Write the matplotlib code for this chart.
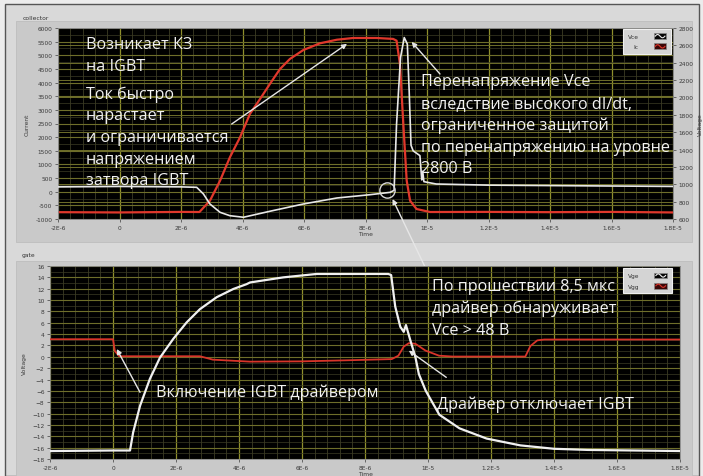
import numpy as np
import matplotlib
matplotlib.use("Agg")
import matplotlib.pyplot as plt
from matplotlib.patches import Rectangle
from matplotlib.lines import Line2D
from matplotlib.legend_handler import HandlerBase
from matplotlib.ticker import FixedLocator, MultipleLocator

# ---- data (time in microseconds) ----
t_ic = [-2.0, 0.0, 2.0, 2.6, 2.94, 3.27, 3.59, 3.92, 4.24, 4.57, 4.89, 5.22, 5.54,
        5.98, 6.52, 7.07, 7.6, 8.36, 8.9, 9.01, 9.12, 9.23, 9.34, 9.45, 9.66, 10.1,
        12.0, 14.0, 16.0, 18.0]
ic = [-750, -760, -740, -744, -330, 404, 1261, 1994, 2848, 3398, 3948, 4498, 4864,
      5194, 5439, 5571, 5634, 5634, 5600, 5536, 4680, 2480, 404, -330, -634, -744,
      -740, -750, -740, -760]

t_vce = [-2.0, 0.0, 2.0, 2.51, 2.73, 2.94, 3.27, 3.59, 4.03, 4.89, 5.98, 7.07, 8.15,
         8.80, 8.93, 9.01, 9.14, 9.26, 9.36, 9.42, 9.48, 9.55, 9.77, 9.83, 9.86, 9.90,
         10.3, 12.0, 14.0, 16.0, 18.0]
vce = [970, 975, 970, 965, 888, 773, 677, 638, 620, 689, 773, 842, 880,
       907, 930, 1694, 2462, 2690, 2616, 2078, 1450, 1385, 1330, 1050, 1150, 1030,
       1003, 990, 985, 980, 975]

t_vge = [-2.0, 0.0, 0.54, 0.64, 0.86, 1.17, 1.49, 1.91, 2.34, 2.76, 3.29, 3.82, 4.24,
         4.35, 5.41, 6.47, 7.52, 8.74, 8.83, 8.96, 9.12, 9.23, 9.30, 9.44, 9.60, 9.71,
         9.93, 10.36, 11.0, 11.86, 12.93, 14.0, 15.07, 18.0]
vge = [-16.6, -16.5, -16.5, -13.3, -8.6, -3.9, -0.15, 3.14, 6.08, 8.4, 10.5, 11.95, 12.8,
       13.1, 14.0, 14.6, 14.6, 14.6, 14.4, 8.85, 5.3, 4.4, 5.6, 2.9, -0.06, -3.05,
       -6.0, -10.2, -12.6, -14.4, -15.6, -16.2, -16.4, -16.6]

t_vgg = [-2.0, 0.0, 0.06, 0.2, 2.76, 3.17, 4.35, 6.0, 7.5, 8.85, 9.06, 9.23, 9.39,
         9.60, 9.92, 10.35, 10.78, 13.09, 13.25, 13.47, 13.69, 18.0]
vgg = [3.1, 3.1, 1.0, 0.1, 0.1, -0.5, -0.85, -0.8, -0.6, -0.4, 0.2, 1.8, 2.4,
       2.3, 1.1, 0.2, 0.05, 0.05, 1.9, 2.9, 3.05, 3.05]

time_ticks = [-2, 0, 2, 4, 6, 8, 10, 12, 14, 16, 18]
time_labels = ["-2E-6", "0", "2E-6", "4E-6", "6E-6", "8E-6", "1E-5",
               "1.2E-5", "1.4E-5", "1.6E-5", "1.8E-5"]
current_ticks = list(range(-1000, 6001, 500))
current_labels = [str(v) for v in current_ticks]
vce_ticks = list(range(600, 2801, 200))
gate_ticks = list(range(-18, 17, 2))

# ---- styling ----
W, H = 703, 477
BG = "#d9d9d9"
FRAME = "#c9c9c9"
GRID_MAJ = "#8f8f2c"
GRID_H = "#6e6e2a"
GRID_MIN = "#3c3c24"
TICK_COL = "#3a3a3a"
ANN = "#f2f2f2"
TXT_FONT = ["Open Sans", "DejaVu Sans"]
TXT_SIZE = 11.6
TICK_SIZE = 4.2


def px_rect(x0, y0, x1, y1):
    return [x0 / W, 1 - y1 / H, (x1 - x0) / W, (y1 - y0) / H]


fig = plt.figure(figsize=(W / 100, H / 100), dpi=100)
fig.patch.set_facecolor("#ececec")

# panel backgrounds
fig.patches.append(Rectangle((5 / W, 0), 694 / W, 1 - 5 / H, transform=fig.transFigure,
                             facecolor=BG, edgecolor="#555555", lw=1.0, zorder=-3))
for (x0, y0, x1, y1) in [(16, 22, 692, 243), (16, 262, 692, 482)]:
    r = px_rect(x0, y0, x1, y1)
    fig.patches.append(Rectangle((r[0], r[1]), r[2], r[3], transform=fig.transFigure,
                                 facecolor=FRAME, edgecolor="#bdbdbd", lw=0.6, zorder=-2))
fig.text(23 / W, 1 - 18 / H, "collector", fontsize=4.3, color="#333333", va="center")
fig.text(22 / W, 1 - 256 / H, "gate", fontsize=4.3, color="#333333", va="center")


class WaveSwatch(HandlerBase):
    def __init__(self, face, wave):
        super().__init__()
        self.face = face
        self.wave = wave

    def create_artists(self, legend, orig_handle, xdescent, ydescent, width, height,
                       fontsize, trans):
        rect = Rectangle((-xdescent, -ydescent), width, height, facecolor=self.face,
                         edgecolor="#8a8a8a", lw=0.5, transform=trans)
        s = np.linspace(0, 1, 40)
        wave = Line2D(-xdescent + width * (0.12 + 0.76 * s),
                      -ydescent + height * (0.5 + 0.28 * np.sin(2 * np.pi * s)),
                      color=self.wave, lw=0.8, transform=trans)
        return [rect, wave]


def style_axis(ax):
    ax.tick_params(which="major", direction="out", length=2.5, width=0.6,
                   color="#555555", labelsize=TICK_SIZE, labelcolor=TICK_COL, pad=1.5)
    ax.tick_params(which="minor", length=0)
    for sp in ax.spines.values():
        sp.set_color("#888888")
        sp.set_linewidth(0.6)


def draw_legend(ax, handles, labels, faces, waves, anchor):
    hm = {h: WaveSwatch(f, w) for h, f, w in zip(handles, faces, waves)}
    leg = ax.legend(handles, labels, handler_map=hm, loc="upper right",
                    bbox_to_anchor=anchor, borderaxespad=0, fontsize=4.2,
                    markerfirst=False, handlelength=2.2, handleheight=1.15,
                    handletextpad=2.6, labelspacing=0.75, borderpad=0.8,
                    frameon=True, fancybox=False)
    fr = leg.get_frame()
    fr.set_facecolor("#d4d4d4")
    fr.set_edgecolor("#f0f0f0")
    fr.set_linewidth(0.8)
    fr.set_alpha(1)
    for tx in leg.get_texts():
        tx.set_color("#333333")
    leg.set_zorder(20)
    return leg


# ================= collector panel =================
ax1 = fig.add_axes(px_rect(58, 29, 673, 220))
ax1.set_facecolor("black")
ax1r = ax1.twinx()

ax1.set_xlim(-2, 18)
ax1.set_ylim(-1000, 6000)
ax1r.set_ylim(600, 2800)

ax1.xaxis.set_major_locator(FixedLocator(time_ticks))
ax1.set_xticklabels(time_labels)
ax1.xaxis.set_minor_locator(MultipleLocator(0.4))
ax1.yaxis.set_major_locator(FixedLocator(current_ticks))
ax1.set_yticklabels(current_labels)
ax1.yaxis.set_minor_locator(MultipleLocator(250))
ax1r.yaxis.set_major_locator(FixedLocator(vce_ticks))

ax1.grid(which="minor", axis="x", color=GRID_MIN, lw=0.6)
ax1.grid(which="minor", axis="y", color=GRID_MIN, lw=0.5)
ax1.grid(which="major", axis="y", color=GRID_H, lw=0.8)
ax1.grid(which="major", axis="x", color=GRID_MAJ, lw=0.9)
# right-axis gridlines drawn underneath the traces
ax1.hlines(vce_ticks, 0, 1, transform=ax1r.get_yaxis_transform(),
           colors=GRID_H, lw=0.7, zorder=0.6)
ax1.set_axisbelow(True)
ax1.set_ylim(-1000, 6000)

style_axis(ax1)
style_axis(ax1r)
ax1.set_xlabel("Time", fontsize=4.3, color=TICK_COL, labelpad=1)
ax1.set_ylabel("Current", fontsize=4.3, color=TICK_COL, labelpad=4)
ax1r.set_ylabel("Voltage", fontsize=4.3, color=TICK_COL, labelpad=3)

ln_ic, = ax1.plot(t_ic, ic, color="#e0382c", lw=1.6, zorder=3)
ln_vce, = ax1r.plot(t_vce, vce, color="#e8e8e8", lw=1.2, zorder=3)

draw_legend(ax1r, [ln_vce, ln_ic], ["Vce", "Ic"], ["#050505", "#3a0606"],
            ["#e8e8e8", "#e0382c"], (0.997, 0.997))

# annotations (va="baseline" anchors the last line of each block)
txt_kw = dict(color=ANN, fontsize=TXT_SIZE, family=TXT_FONT, va="baseline",
              ha="left", linespacing=1.46, zorder=10)
ax1.text(0.0455, 0.782, "Возникает КЗ\nна IGBT", transform=ax1.transAxes, **txt_kw)
ax1.text(0.0455, 0.183, "Ток быстро\nнарастает\nи ограничивается\nнапряжением\nзатвора IGBT",
         transform=ax1.transAxes, **txt_kw)
ax1.text(0.590, 0.2445,
         "Перенапряжение Vce\nвследствие высокого dI/dt,\nограниченное защитой\n"
         "по перенапряжению на уровне\n2800 В", transform=ax1.transAxes, **txt_kw)

arrow_kw = dict(arrowstyle="-|>", color="#e6e6e6", lw=1.0, mutation_scale=7,
                shrinkA=0, shrinkB=0)
ax1.annotate("", xy=(7.4, 5420), xycoords="data", xytext=(0.2824, 0.4974),
             textcoords="axes fraction", arrowprops=arrow_kw, zorder=10)
ax1r.annotate("", xy=(9.5, 2640), xycoords="data", xytext=(0.6211, 0.7592),
              textcoords="axes fraction", arrowprops=arrow_kw, zorder=10)
ax1r.plot([8.70], [934], marker="o", mfc="none", mec="#d8d8d8", ms=11, mew=1.0, zorder=9)
ax1r.annotate("", xy=(8.88, 830), xycoords="data", xytext=(426 / W, 1 - 270 / H),
              textcoords="figure fraction", arrowprops=arrow_kw, zorder=10,
              annotation_clip=False)

# ================= gate panel =================
ax2 = fig.add_axes(px_rect(50, 267, 680, 460))
ax2.set_facecolor("black")
ax2.set_xlim(-2, 18)
ax2.set_ylim(-18, 16)
ax2.xaxis.set_major_locator(FixedLocator(time_ticks))
ax2.set_xticklabels(time_labels)
ax2.xaxis.set_minor_locator(MultipleLocator(0.4))
ax2.yaxis.set_major_locator(FixedLocator(gate_ticks))
ax2.yaxis.set_minor_locator(MultipleLocator(1))
ax2.grid(which="minor", axis="x", color=GRID_MIN, lw=0.6)
ax2.grid(which="minor", axis="y", color=GRID_MIN, lw=0.5)
ax2.grid(which="major", axis="y", color=GRID_H, lw=0.8)
ax2.grid(which="major", axis="x", color=GRID_MAJ, lw=0.9)
ax2.set_axisbelow(True)
style_axis(ax2)
ax2.set_xlabel("Time", fontsize=4.3, color=TICK_COL, labelpad=1)
ax2.set_ylabel("Voltage", fontsize=4.3, color=TICK_COL, labelpad=4)

ln_vgg, = ax2.plot(t_vgg, vgg, color="#d8352a", lw=1.3, zorder=3)
ln_vge, = ax2.plot(t_vge, vge, color="#f0f0f0", lw=1.6, zorder=4)

draw_legend(ax2, [ln_vge, ln_vgg], ["Vge", "Vgg"], ["#050505", "#3a0606"],
            ["#f0f0f0", "#d8352a"], (0.987, 0.99))

ax2.text(0.607, 0.650, "По прошествии 8,5 мкс\nдрайвер обнаруживает\nVce > 48 В",
         transform=ax2.transAxes, **txt_kw)
ax2.text(0.168, 0.328, "Включение IGBT драйвером", transform=ax2.transAxes, **txt_kw)
ax2.text(0.615, 0.265, "Драйвер отключает IGBT", transform=ax2.transAxes, **txt_kw)

ax2.annotate("", xy=(0.12, 1.38), xycoords="data", xytext=(0.1429, 0.3456),
             textcoords="axes fraction", arrowprops=arrow_kw, zorder=10)
ax2.annotate("", xy=(9.39, 1.1), xycoords="data", xytext=(0.629, 0.423),
             textcoords="axes fraction", arrowprops=arrow_kw, zorder=10)

fig.savefig("out.png", dpi=100)
